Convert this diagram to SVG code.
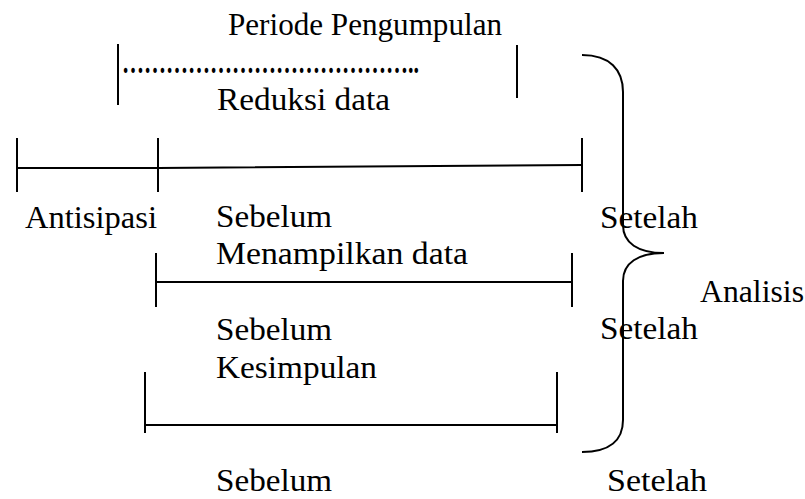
<svg xmlns="http://www.w3.org/2000/svg" width="805" height="499" viewBox="0 0 805 499">
<style>
  .t { font-family: "Liberation Serif", "Times New Roman", serif; font-size: 32px; fill: #000; }
  .ln { stroke: #000; stroke-width: 2; fill: none; }
</style>
<rect width="805" height="499" fill="#fff"/>
<g id="connectors">
  <!-- Periode pengumpulan -->
  <line class="ln" x1="118" y1="44" x2="118" y2="105"/>
  <line class="ln" x1="517" y1="45" x2="517" y2="98"/>
  <!-- Reduksi data bar -->
  <line class="ln" x1="17" y1="138" x2="17" y2="192"/>
  <line class="ln" x1="158" y1="138" x2="158" y2="192"/>
  <line class="ln" x1="582" y1="138" x2="582" y2="192"/>
  <polyline class="ln" points="17,168 158,168 582,165"/>
  <!-- Menampilkan data bar -->
  <line class="ln" x1="156" y1="253" x2="156" y2="307"/>
  <line class="ln" x1="572" y1="253" x2="572" y2="307"/>
  <line class="ln" x1="156" y1="282" x2="572" y2="282"/>
  <!-- Kesimpulan bar -->
  <line class="ln" x1="145" y1="372" x2="145" y2="433"/>
  <line class="ln" x1="557" y1="372" x2="557" y2="433"/>
  <line class="ln" x1="145" y1="425" x2="557" y2="425"/>
  <!-- Brace -->
  <path class="ln" d="M582,55 C610,55 623,70 623,92 L623,225 C623,243 638,253 664,253 C638,253 623,263 623,281 L623,420 C623,440 610,452 582,452"/>
</g>
<g id="periode">
  <text class="t" x="228" y="35" textLength="274" lengthAdjust="spacingAndGlyphs">Periode Pengumpulan</text>
  <text class="t" x="122" y="73" textLength="297" lengthAdjust="spacingAndGlyphs" font-weight="bold">…………………………………..</text>
</g>
<g id="reduksi">
  <text class="t" x="217" y="110" textLength="173" lengthAdjust="spacingAndGlyphs">Reduksi data</text>
  <text class="t" x="25" y="228" textLength="132" lengthAdjust="spacingAndGlyphs">Antisipasi</text>
  <text class="t" x="216" y="227" textLength="116" lengthAdjust="spacingAndGlyphs">Sebelum</text>
  <text class="t" x="600" y="228" textLength="98" lengthAdjust="spacingAndGlyphs">Setelah</text>
</g>
<g id="menampilkan">
  <text class="t" x="216" y="264" textLength="252" lengthAdjust="spacingAndGlyphs">Menampilkan data</text>
  <text class="t" x="216" y="340" textLength="116" lengthAdjust="spacingAndGlyphs">Sebelum</text>
  <text class="t" x="600" y="339" textLength="98" lengthAdjust="spacingAndGlyphs">Setelah</text>
</g>
<g id="kesimpulan">
  <text class="t" x="216" y="491" textLength="116" lengthAdjust="spacingAndGlyphs">Sebelum</text>
  <text class="t" x="216" y="378" textLength="161" lengthAdjust="spacingAndGlyphs">Kesimpulan</text>
  <text class="t" x="607" y="491" textLength="100" lengthAdjust="spacingAndGlyphs">Setelah</text>
</g>
<g id="analisis">
  <text class="t" x="700" y="302" textLength="104" lengthAdjust="spacingAndGlyphs">Analisis</text>
</g>
</svg>
